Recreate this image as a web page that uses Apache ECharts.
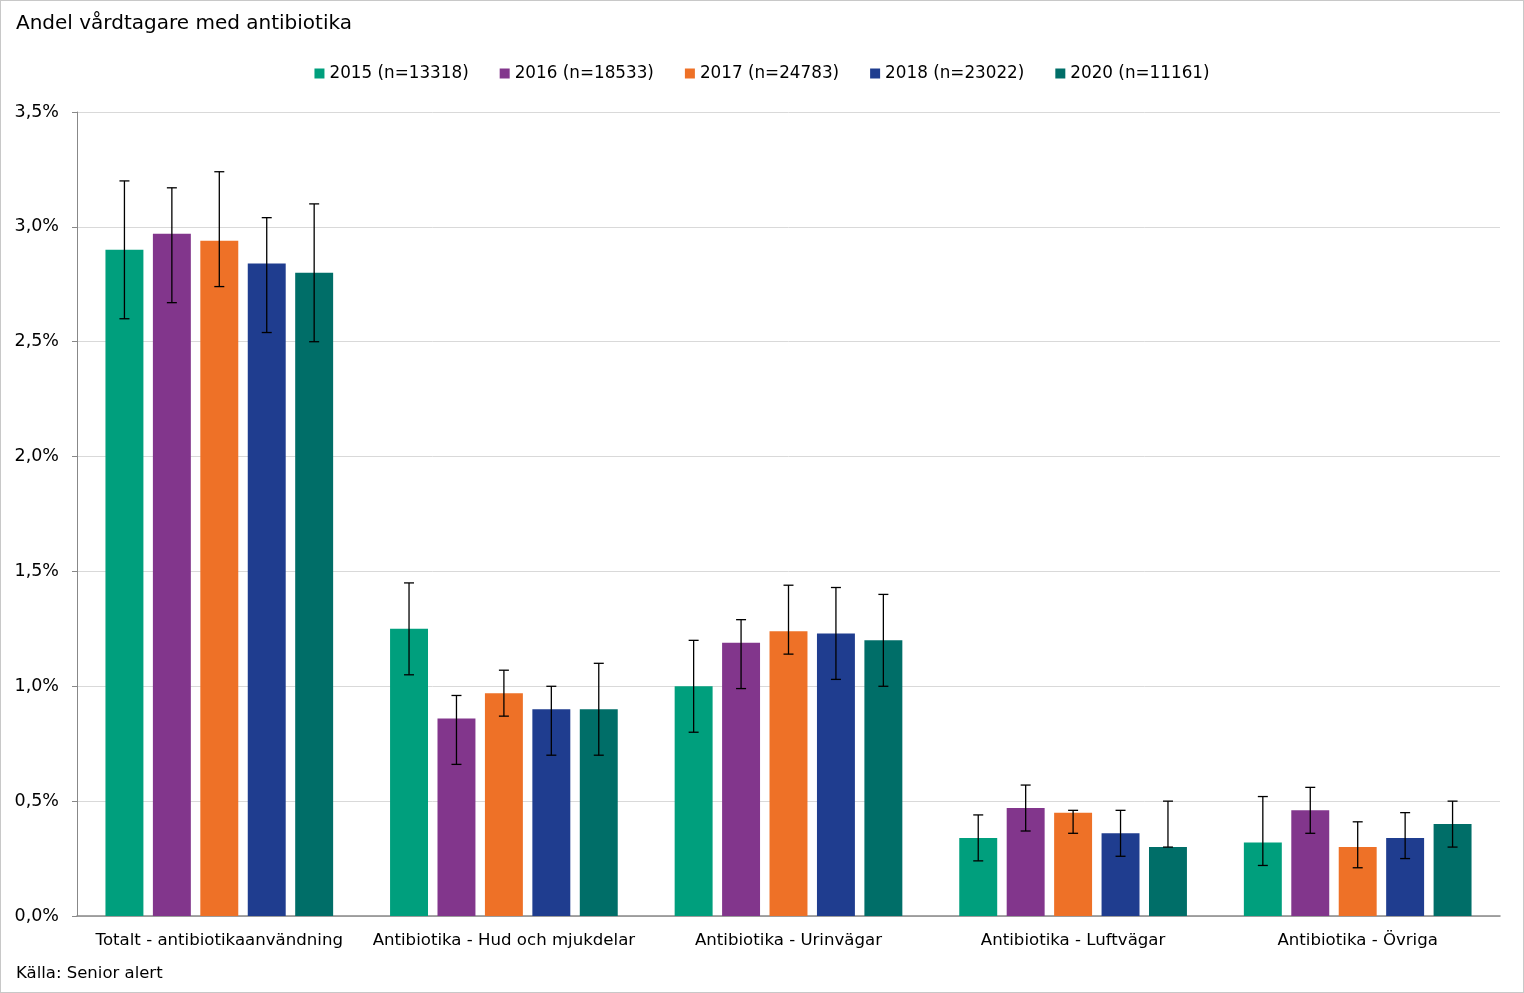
<!DOCTYPE html>
<html>
<head>
<meta charset="utf-8">
<script src="https://cdn.jsdelivr.net/npm/echarts@6/dist/echarts.min.js"></script>
<style>
html,body{margin:0;padding:0;background:#fff;}
#c{width:1522px;height:991px;border:1px solid #c8c8c8;}
</style>
</head>
<body>
<div id="c"></div>
<script>
const categories = ['Totalt - antibiotikaanvändning','Antibiotika - Hud och mjukdelar','Antibiotika - Urinvägar','Antibiotika - Luftvägar','Antibiotika - Övriga'];
const seriesNames = ['2015 (n=13318)','2016 (n=18533)','2017 (n=24783)','2018 (n=23022)','2020 (n=11161)'];
const colors = ['#009F7D','#82368C','#EE7127','#1F3D8F','#006E68'];

const v2015 = [2.90, 1.25, 1.00, 0.34, 0.32];
const v2016 = [2.97, 0.86, 1.19, 0.47, 0.46];
const v2017 = [2.94, 0.97, 1.24, 0.45, 0.30];
const v2018 = [2.84, 0.90, 1.23, 0.36, 0.34];
const v2020 = [2.80, 0.90, 1.20, 0.30, 0.40];

const lo2015 = [2.60, 1.05, 0.80, 0.24, 0.22];
const hi2015 = [3.20, 1.45, 1.20, 0.44, 0.52];
const lo2016 = [2.67, 0.66, 0.99, 0.37, 0.36];
const hi2016 = [3.17, 0.96, 1.29, 0.57, 0.56];
const lo2017 = [2.74, 0.87, 1.14, 0.36, 0.21];
const hi2017 = [3.24, 1.07, 1.44, 0.46, 0.41];
const lo2018 = [2.54, 0.70, 1.03, 0.26, 0.25];
const hi2018 = [3.04, 1.00, 1.43, 0.46, 0.45];
const lo2020 = [2.50, 0.70, 1.00, 0.30, 0.30];
const hi2020 = [3.10, 1.10, 1.40, 0.50, 0.50];

const values = [v2015, v2016, v2017, v2018, v2020];
const lows = [lo2015, lo2016, lo2017, lo2018, lo2020];
const highs = [hi2015, hi2016, hi2017, hi2018, hi2020];

const FONT = 'DejaVu Sans';
const nS = values.length;
const catGap = 0.2, barGapR = 0.25;

const series = [];
values.forEach((vals, i) => {
  series.push({
    name: seriesNames[i], type: 'bar', data: vals,
    itemStyle: {color: colors[i]},
    barCategoryGap: '20%', barGap: '25%'
  });
});
values.forEach((vals, i) => {
  series.push({
    name: seriesNames[i] + '_err', type: 'custom',
    data: categories.map((c, j) => [j, lows[i][j], highs[i][j]]),
    z: 10, silent: true,
    renderItem: function (params, api) {
      const x = api.value(0);
      const lowP = api.coord([x, api.value(1)]);
      const highP = api.coord([x, api.value(2)]);
      const bw = api.size([1, 0])[0];
      const barW = bw * (1 - catGap) / (nS + (nS - 1) * barGapR);
      const off = (i - (nS - 1) / 2) * barW * (1 + barGapR);
      const cx = lowP[0] + off;
      const cap = 5;
      const st = {stroke: '#000', lineWidth: 1.3};
      return {type: 'group', children: [
        {type: 'line', shape: {x1: cx, y1: highP[1], x2: cx, y2: lowP[1]}, style: st},
        {type: 'line', shape: {x1: cx - cap, y1: highP[1], x2: cx + cap, y2: highP[1]}, style: st},
        {type: 'line', shape: {x1: cx - cap, y1: lowP[1], x2: cx + cap, y2: lowP[1]}, style: st}
      ]};
    }
  });
});

const chart = echarts.init(document.getElementById('c'));
chart.setOption({
  animation: false,
  textStyle: {fontFamily: FONT},
  title: [
    {text: 'Andel vårdtagare med antibiotika', left: 10, top: 8,
     textStyle: {fontFamily: FONT, fontSize: 20, fontWeight: 'normal', color: '#000'}},
    {text: 'Källa: Senior alert', left: 10, top: 959,
     textStyle: {fontFamily: FONT, fontSize: 16.5, fontWeight: 'normal', color: '#000'}}
  ],
  legend: {
    data: seriesNames, top: 59, left: 'center',
    itemWidth: 10, itemHeight: 10, itemGap: 31, icon: 'rect',
    textStyle: {fontFamily: FONT, fontSize: 16.8, color: '#000'}
  },
  grid: {left: 76, right: 23, top: 111, bottom: 76},
  xAxis: {
    type: 'category', data: categories,
    axisLine: {lineStyle: {color: '#888', width: 1.5}},
    axisTick: {show: false},
    axisLabel: {fontFamily: FONT, fontSize: 16.6, color: '#000', margin: 16, interval: 0}
  },
  yAxis: {
    type: 'value', min: 0, max: 3.5, interval: 0.5,
    axisLine: {show: true, lineStyle: {color: '#888'}},
    axisTick: {show: true, length: 5, lineStyle: {color: '#888'}},
    splitLine: {lineStyle: {color: '#d9d9d9'}},
    axisLabel: {fontFamily: FONT, fontSize: 17.5, color: '#000', margin: 18,
      formatter: v => v.toFixed(1).replace('.', ',') + '%'}
  },
  series: series
});
</script>
</body>
</html>
